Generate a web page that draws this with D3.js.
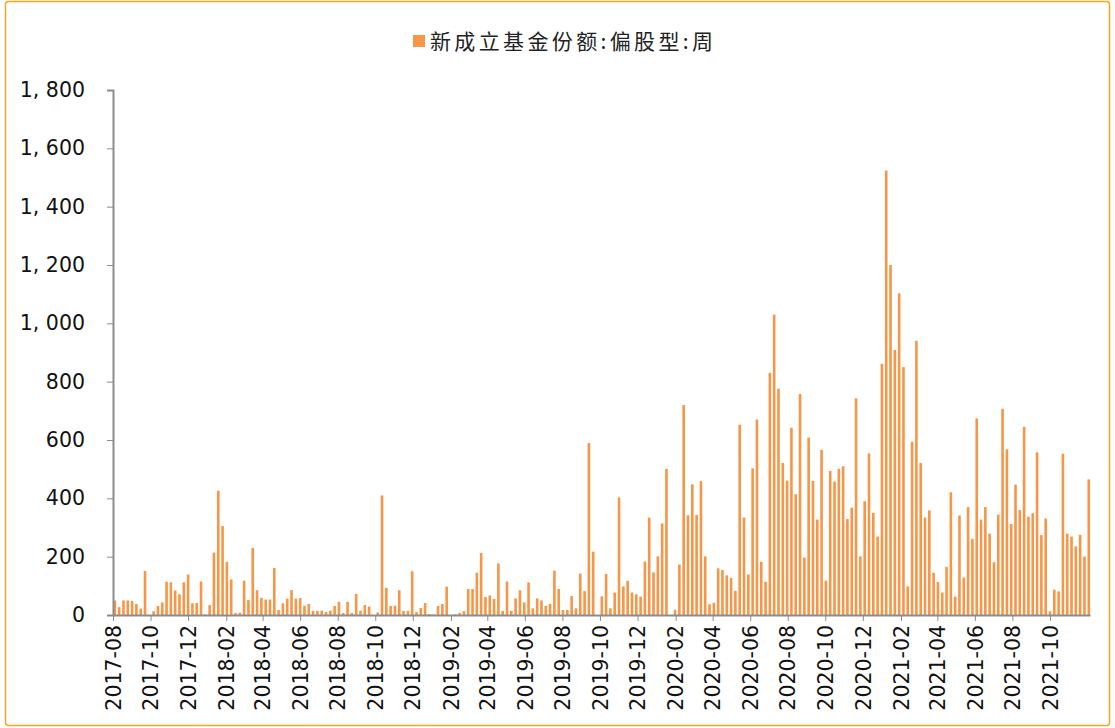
<!DOCTYPE html>
<html lang="zh">
<head>
  <meta charset="UTF-8">
  <title>新成立基金份额:偏股型:周</title>
  <script src="https://d3js.org/d3.v7.min.js"></script>
  <style>
    body {
      margin: 0;
      background: #fff;
      font-family: "Noto Sans CJK SC", "Noto Sans", sans-serif;
    }
    .axis path, .axis line {
      stroke: #8c8c8c;
    }
    .axis text {
      fill: #111;
      font-size: 20.5px;
      font-family: "DejaVu Sans", sans-serif;
    }
    .bar {
      fill: #f79646;
    }
  </style>
</head>
<body>
  <svg width="1115" height="728"></svg>

  <script>
    // weekly data, dated on Fridays (first week 2017-08-04, last 2021-12-03)
    const seriesName = '新成立基金份额:偏股型:周';
    const firstWeek = new Date(2017, 7, 4);
    const lastWeek = new Date(2021, 11, 3);

    // 亿份, null = no fund launched that week
    const values2017 = [50, 27, 50, 50, 48, 38, 22, 151, null, 13, 31, 43, 114, 112, 84, 71,
      112, 139, 40, 41, 115, 2];
    const values2018 = [34, 214, 426, 305, 182, 122, 7, 8, 118, 51, 230, 85, 59, 53, 53, 161,
      17, 40, 56, 86, 56, 58, 32, 38, 14, 14, 15, 10, 15, 31, 45, 7, 45, 7, 72, 15, 34, 29,
      null, 9, 410, 93, 31, 32, 85, 14, 14, 150, 10, 24, 41, 3, 2, 31, 38];
    const values2019 = [97, null, 2, 7, 13, 89, 89, 145, 213, 62, 67, 55, 177, 14, 115, 14,
      57, 85, 43, 112, 23, 57, 50, 31, 38, 152, 89, 17, 17, 65, 23, 142, 82, 590, 217, null,
      64, 141, 23, 77, 403, 98, 117, 77, 71, 63, 183, 334, 146, 201, 314];
    const values2020 = [501, null, 18, 173, 720, 342, 448, 343, 459, 201, 37, 42, 160, 154,
      136, 127, 83, 652, 334, 139, 503, 670, 182, 114, 830, 1030, 776, 521, 461, 642, 414,
      758, 197, 608, 460, 327, 566, 118, 494, 457, 501, 510, 329, 368, 743, 201, 390, 554,
      350, 269, 861];
    const values2021 = [1524, 1200, 909, 1103, 850, 98, 594, 940, 521, 334, 359, 145, 113, 77,
      165, 421, 63, 341, 128, 370, 261, 674, 327, 370, 279, 181, 344, 707, 568, 312, 447, 360,
      645, 337, 349, 558, 274, 331, 13, 87, 81, 553, 279, 269, 235, 275, 200, 465];

    const yTicks = [0, 200, 400, 600, 800, 1000, 1200, 1400, 1600, 1800];

    const weeks = d3.timeFriday.range(firstWeek, d3.timeDay.offset(lastWeek, 1));
    const values = [].concat(values2017, values2018, values2019, values2020, values2021);
    const data = weeks.map((d, i) => ({ date: d, value: values[i] }))
      .filter(d => d.value != null);

    const svg = d3.select('svg');
    const margin = { top: 90, right: 25, bottom: 113, left: 113 };
    const width = +svg.attr('width');
    const height = +svg.attr('height');

    // outer frame
    svg.append('rect')
      .attr('x', 5.5).attr('y', 1.5)
      .attr('width', width - 11).attr('height', height - 4)
      .attr('rx', 3)
      .attr('fill', 'none')
      .attr('stroke', '#f5a623')
      .attr('stroke-width', 1.5);

    const x = d3.scaleTime()
      .domain([new Date(2017, 7, 1), new Date(2021, 11, 5)])
      .range([margin.left, width - margin.right]);

    const y = d3.scaleLinear()
      .domain([0, 1800])
      .range([height - margin.bottom, margin.top]);

    const barWidth = 2.6;

    svg.append('g')
      .selectAll('.bar')
      .data(data)
      .enter()
      .append('rect')
      .attr('class', 'bar')
      .attr('x', d => x(d.date) - barWidth / 2)
      .attr('y', d => y(d.value))
      .attr('width', barWidth)
      .attr('height', d => y(0) - y(d.value));

    // y axis
    const yAxis = svg.append('g')
      .attr('class', 'axis')
      .attr('transform', `translate(${margin.left},0)`)
      .call(d3.axisLeft(y)
        .tickValues(yTicks)
        .tickSize(6)
        .tickPadding(22)
        .tickFormat(d => d3.format(',')(d).replace(',', ', ')));
    yAxis.select('.domain').attr('stroke-width', 2);

    // x axis
    const xTicks = d3.timeMonth.range(new Date(2017, 7, 1), new Date(2021, 10, 1), 2);
    const xAxis = svg.append('g')
      .attr('class', 'axis')
      .attr('transform', `translate(0,${height - margin.bottom})`)
      .call(d3.axisBottom(x)
        .tickValues(xTicks)
        .tickSize(6)
        .tickSizeOuter(0)
        .tickFormat(d3.timeFormat('%Y-%m')));
    xAxis.select('.domain').attr('stroke-width', 2);
    xAxis.selectAll('text')
      .attr('transform', 'rotate(-90)')
      .attr('text-anchor', 'end')
      .attr('x', -10)
      .attr('y', 0)
      .attr('dy', '0.35em');

    // legend
    const legend = svg.append('g').attr('transform', 'translate(413,35)');
    legend.append('rect')
      .attr('width', 12).attr('height', 12)
      .attr('fill', '#f79646');
    legend.append('text')
      .attr('x', 17)
      .attr('y', 6)
      .attr('dy', '0.36em')
      .attr('font-size', 21)
      .attr('fill', '#222')
      .attr('textLength', 283)
      .attr('lengthAdjust', 'spacing')
      .text(seriesName);
  </script>
</body>
</html>
